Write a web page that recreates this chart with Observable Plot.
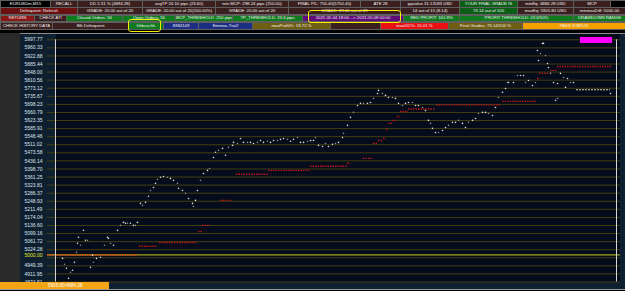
<!DOCTYPE html>
<html><head><meta charset="utf-8">
<script src="https://cdn.jsdelivr.net/npm/d3@7"></script>
<script src="https://cdn.jsdelivr.net/npm/@observablehq/plot@0.6"></script>
<style>
html,body{margin:0;padding:0;background:#000;}
#page{position:relative;width:625px;height:291px;overflow:hidden;background:#000;font-family:"Liberation Sans",Arial,sans-serif;}
.cell{position:absolute;box-sizing:border-box;border:1px solid #5e5e5e;color:#f2f2f2;font-size:4.3px;line-height:1;display:flex;align-items:center;justify-content:center;white-space:nowrap;overflow:hidden;}
.bg{position:absolute;}
#chart{position:absolute;left:0;top:30px;}
</style></head><body><div id="page"></div>
<script>
// ---- header texts (one array per row) ----
const row1Text = ["EURUSDm,M15","RECALL","DD 2.31 % (4884.28)","avgTP 24.10 pips (23.60)","min MCP: 298.24 pips (250.00)","FINAL P/L: 750.40(5750.40)","ATE 28","ppvalue 31.13183 USD","YOUR FINAL GRADE IS","minEq: 4884.28 USD","MCP",""];
const row2Text = ["Delinquent: Refresh","GRADE: 20.00 out of 20","GRADE: 20.00 out of 20(100.00%)","GRADE: 20.00 out of 20","GRADE: 29.00 out of 29","14 out of 15 (8.14)","73.14 out of 100","maxEq: 5905.80 USD","minmaxDiff: 5000.00"];
const row3Text = ["RETURN","CHECK ATI","Closed Orders: 56","Open Orders: 56","MCP_THRESHOLD: 250 pips","TP_THRESHOLD: 23.6 pips","2021.05.04 18:00 --> 2021.05.08 00:00","RED PROFIT: 161.8%","PROFIT THRESHOLD: 23.6/50%","DRAWDOWN RANGE"];
const row4Text = ["CHECK HISTORY DATA","Blk Delinquent","hhbcxchh","8384149","Emmas-Trai2","maxProfit%: 19.72 %","","maxDD%: 15.01 %","Final Grades: 73.14/100 %","PASS STATUS"];
const rangeLabel = "5905.80/4884.28";

// ---- chart data ----
const gridTicks = [5997.77,5960.33,5922.88,5885.44,5848.00,5810.56,5773.12,5735.67,5698.23,5660.79,5623.35,5585.91,5548.46,5511.02,5473.58,5436.14,5398.70,5361.25,5323.81,5286.37,5248.93,5211.49,5174.04,5136.60,5099.16,5061.72,5024.28,4986.84,4949.39,4911.95,4874.51];
const hiddenTick = 4986.84;
const startBalance = 5000.00;

const eqBar = [7,9,11,13,15,17,19,21,22,23,25,28,30,32,35,37,38,41,45,49,52,53,55,58,62,65,68,70,72,75,78,80,82,85,87,90,93,95,98,100,102,105,108,112,115,118,122,123,127,130,133,137,138,140,142,145,148,152,154,158,160,163,167,170,173,177,178,182,185,188,192,195,198,202,205,208,212,215,218,222,225,228,232,235,238,242,245,248,252,255,258,260,263,267,270,273,277,280,283,287,288,292,295,298,302,305,308,312,315,318,322,323,327,330,333,337,340,343,347,350,353,357,360,363,367,370,373,375,377,380,383,387,390,393,397,400,403,407,410,413,417,420,423,427,430,433,437,440,443,447,450,452,453,458,462,465,468,470,473,477,480,482,483,485,487,488,490,492,493,495,498,500,502,502,505,508,510,512,515,518,555];
const eqValue = [4984,4957,4938,4892,4920,4929,4966,5012,5054,5082,5045,5114,5068,5068,4943,4998,4966,4984,4989,5045,5082,5077,5054,5045,5114,5137,5151,5147,5147,5147,5137,5137,5151,5239,5230,5244,5272,5299,5313,5332,5350,5360,5364,5360,5355,5346,5332,5309,5299,5286,5262,5239,5225,5253,5299,5346,5378,5392,5401,5452,5476,5485,5494,5462,5499,5508,5522,5517,5540,5522,5522,5522,5517,5522,5531,5522,5527,5522,5531,5531,5536,5540,5536,5527,5536,5545,5522,5522,5527,5531,5531,5545,5508,5503,5517,5503,5513,5517,5522,5545,5564,5601,5638,5661,5693,5703,5703,5703,5707,5726,5749,5763,5749,5740,5730,5730,5726,5703,5693,5703,5707,5707,5693,5693,5684,5670,5624,5610,5587,5568,5568,5577,5591,5601,5615,5615,5624,5610,5591,5615,5624,5633,5656,5661,5661,5656,5647,5684,5730,5754,5772,5800,5800,5800,5832,5832,5832,5800,5809,5786,5800,5948,5902,5934,5981,5981,5925,5888,5869,5842,5800,5717,5726,5795,5842,5823,5777,5818,5800,5800,5749];

const levelStart = [-8,84,104,143,147,165,181,213,255,292,308,318,323,328,331,333,337,342,345,353,381,447,482,484,495,502];
const levelEnd   = [83,102,142,147,155,177,213,255,292,295,317,322,327,331,333,337,342,345,353,380,445,482,485,493,502,557];
const levelValue = [5000,5040,5058,5109,5137,5253,5374,5392,5411,5425,5448,5517,5531,5540,5582,5610,5624,5642,5665,5677,5696,5712,5818,5842,5856,5874];

const lastLevel = {start: 521, end: 555, value: 5766};

// ---- layout ----
const page = document.getElementById("page");
function box(l,t,w,h,bg,cls="bg"){const d=document.createElement("div");d.className=cls;Object.assign(d.style,{left:l+"px",top:t+"px",width:w+"px",height:h+"px",background:bg});page.appendChild(d);return d;}

const C = {brown:"#3b1f1f", green:"#0f7a1e", dgreen:"#0b5e15", red:"#8c1515", dred:"#6a1010", purple:"#5f0a7a", blue:"#1c2d84", olive:"#6f5e10", bred:"#e81010", orange:"#f4a000", black:"#000"};
const rows = [
  {top:0, edges:[0,50,77,142,215,288,360,400,459,517,573,610,625], bg:["black","brown","brown","brown","brown","brown","brown","brown","dgreen","brown","brown","black"], text:row1Text},
  {top:7.3, edges:[0,77,142,215,288,400,459,517,573,625], bg:["dred","brown","brown","brown","brown","brown","dgreen","brown","brown"], text:row2Text},
  {top:14.6, edges:[0,34,66,122,175,232,302,403,459,573,625], bg:["red","brown","green","green","green","green","purple","green","green","green"], text:row3Text},
  {top:21.9, edges:[0,52,128,163,198,252,330,380,448,522,625], bg:["brown","brown","green","blue","blue","olive","brown","bred","olive","orange"], text:row4Text}
];
rows.forEach(r=>{
  for(let i=0;i<r.text.length;i++){
    const d=box(r.edges[i],r.top,r.edges[i+1]-r.edges[i]+1,7.9,C[r.bg[i]],"cell");
    d.textContent=r.text[i];
  }
});

// panel backgrounds
box(0,30,625,4,"#000");
box(0,33,20,250,"#2a2a2a");
box(20,32.5,605,1.6,"#8c8c8c");
box(20,34.1,605,248,"#0e1f30");
box(56,34.1,564,248,"#040c1b");
box(0,282,625,7,"#0e1f30");
box(0,288.5,625,1.6,"#9a9a9a");
box(0,290.1,625,1,"#000");

// chart
const eq = eqBar.map((b,i)=>({bar:b, value:eqValue[i], i}));
const levels = levelValue.map((v,i)=>({x1:levelStart[i], x2:levelEnd[i], value:v, first:i===0}));
const labelTicks = gridTicks.filter(v=>v!==hiddenTick);

const chart = Plot.plot({
  width:625, height:261, margin:0,
  style:{background:"transparent", overflow:"visible"},
  x:{domain:[-10,560], range:[45,615], axis:null},
  y:{domain:[4874.51,5997.77], range:[251.5,9.3], axis:null},
  marks:[
    Plot.ruleY(gridTicks,{x1:-8,x2:565,stroke:"#403f10",strokeWidth:1}),
    Plot.ruleY([startBalance],{x1:-8,x2:565,stroke:"#a3a31e",strokeWidth:1.2}),
    Plot.text(labelTicks,{x:-31,y:d=>d,text:d=>d.toFixed(2),textAnchor:"start",fontSize:5,fill:"#dde3ea",fontFamily:"Liberation Sans"}),
    Plot.text([startBalance],{x:-31,y:d=>d,text:d=>d.toFixed(2),textAnchor:"start",fontSize:5,fill:"#e8e820",fontFamily:"Liberation Sans"}),
    Plot.ruleY(levels,{y:"value",x1:"x1",x2:"x2",stroke:d=>d.first?"#e8461a":"#b8141a",strokeWidth:1.4,strokeDasharray:"1.5,1"}),
    Plot.ruleY([lastLevel],{y:"value",x1:"start",x2:"end",stroke:"#cfcfbc",strokeWidth:1.2,strokeDasharray:"2,1"}),
    Plot.ruleX([0,561],{y1:4874.51,y2:5997.77,stroke:"#d4d4d4",strokeWidth:1}),
    Plot.dot(eq,{x:"bar",y:"value",r:0.8,fill:d=>d.i%3===1?"#8e8e88":"#dcdcd0",stroke:"none"})
  ]
});
chart.id="chart";
page.appendChild(chart);

// overlays
box(580,37,32,6,"#ff00ff");
box(0,282,109,6.5,"#f4a516");
const ot = document.createElement("div");
Object.assign(ot.style,{position:"absolute",left:"48px",top:"282.6px",fontSize:"4.6px",color:"#fff",whiteSpace:"nowrap",lineHeight:"5px"});
ot.textContent = rangeLabel; page.appendChild(ot);
function ring(l,t,w,h){const d=box(l,t,w,h,"transparent");Object.assign(d.style,{border:"1.6px solid #f4f000",borderRadius:"3px",boxSizing:"border-box"});}
ring(308,10,93,13);
ring(128,19,33,13);
</script></body></html>
